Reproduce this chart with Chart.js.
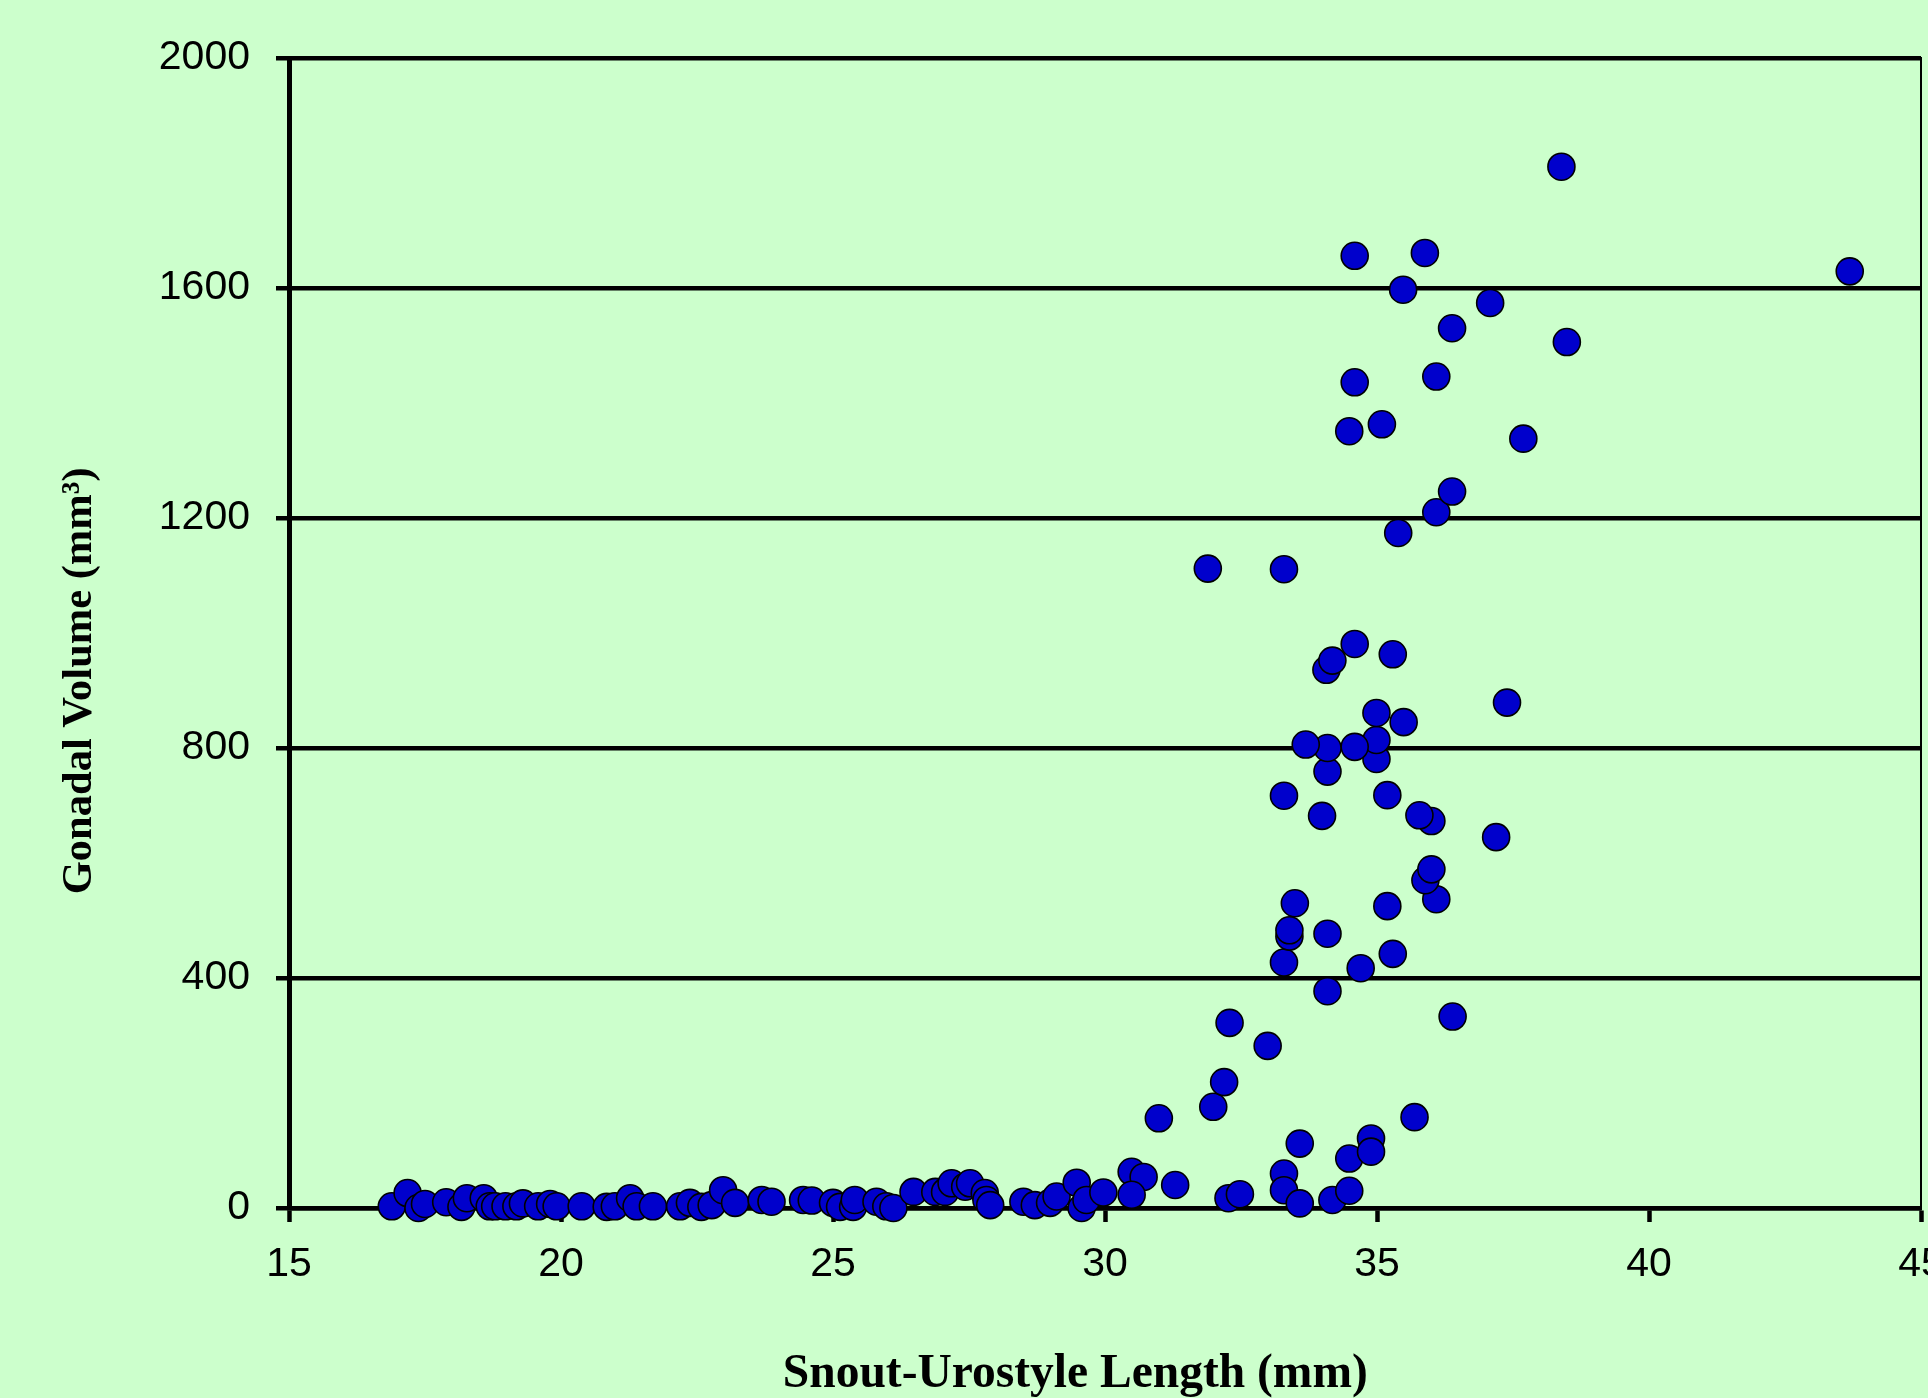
<!DOCTYPE html>
<html>
<head>
<meta charset="utf-8">
<script src="https://cdn.jsdelivr.net/npm/chart.js@4.4.1/dist/chart.umd.min.js"></script>
<style>
html,body{margin:0;padding:0;background:#CCFFCC;}
canvas{display:block;}
</style>
</head>
<body>
<canvas id="c" width="1928" height="1398"></canvas>
<script>
// Snout-urostyle length (mm)
const sul = [
  16.89, 17.18, 17.38, 17.50, 17.89, 18.17, 18.27, 18.58, 18.69, 18.79,
  18.98, 19.18, 19.30, 19.58, 19.80, 19.92, 20.38, 20.84, 20.99, 21.27,
  21.39, 21.69, 22.19, 22.37, 22.58, 22.77, 22.98, 23.20, 23.69, 23.87,
  24.45, 24.61, 25.00, 25.13, 25.37, 25.40, 25.80, 25.98, 26.11, 26.48,
  26.88, 27.06, 27.18, 27.43, 27.52, 27.79, 27.82, 27.89, 28.50, 28.71,
  28.99, 29.11, 29.48, 29.57, 29.66, 29.97, 30.49, 30.71, 30.49, 31.29,
  32.27, 32.48, 33.29, 33.29, 33.58, 33.58, 34.18, 34.49, 34.49, 34.89,
  34.89, 35.69, 30.99, 31.99, 32.19, 32.99, 32.29, 36.39, 34.09, 34.70,
  33.29, 35.29, 34.09, 33.39, 33.39, 35.19, 33.49, 36.09, 35.89, 36.00,
  37.19, 36.00, 35.78, 33.99, 35.19, 33.29, 34.09, 34.99, 34.99, 34.59,
  34.09, 33.69, 35.49, 34.99, 37.39, 35.29, 34.07, 34.18, 34.59, 33.29,
  31.89, 35.39, 36.09, 36.38, 37.69, 34.49, 35.09, 34.59, 36.09, 38.49,
  36.38, 37.08, 35.48, 35.88, 34.59, 43.69, 38.39
];
// Gonadal volume (mm3)
const vol = [
  3, 26, 0, 7, 10, 2, 17, 17, 3, 3,
  3, 3, 8, 3, 7, 3, 3, 2, 3, 17,
  3, 3, 3, 9, 2, 5, 31, 9, 14, 11,
  14, 13, 9, 2, 2, 14, 11, 3, 0, 28,
  28, 28, 43, 37, 43, 26, 14, 5, 11, 5,
  9, 20, 44, 0, 14, 27, 63, 54, 23, 40,
  17, 24, 60, 31, 112, 8, 14, 30, 86, 121,
  98, 158, 156, 176, 219, 282, 322, 333, 377, 417,
  427, 442, 477, 472, 483, 525, 530, 537, 570, 589,
  645, 673, 683, 682, 718, 717, 759, 781, 814, 802,
  800, 806, 845, 861, 879, 963, 936, 952, 981, 1111,
  1112, 1174, 1210, 1246, 1338, 1351, 1363, 1436, 1446, 1506,
  1530, 1574, 1597, 1661, 1656, 1629, 1811
];
const xTicks = [15, 20, 25, 30, 35, 40, 45];
const yTicks = [0, 400, 800, 1200, 1600, 2000];
const xTitle = 'Snout-Urostyle Length (mm)';
const yTitle = 'Gonadal Volume (mm\u00B3)';

const points = sul.map((x, i) => ({x: x, y: vol[i]}));

new Chart(document.getElementById('c'), {
  type: 'scatter',
  data: {
    datasets: [{
      data: points,
      backgroundColor: '#0000CC',
      borderColor: '#000000',
      borderWidth: 1.6,
      pointRadius: 13.5,
      pointHoverRadius: 13.5,
      clip: false
    }]
  },
  options: {
    responsive: false,
    animation: false,
    devicePixelRatio: 1,
    events: [],
    layout: {autoPadding: false, padding: {top: 58, right: 7, bottom: 0, left: 0}},
    plugins: {legend: {display: false}, tooltip: {enabled: false}},
    scales: {
      x: {
        type: 'linear',
        position: 'bottom',
        min: 15, max: 45,
        afterBuildTicks: s => { s.ticks = xTicks.map(v => ({value: v})); },
        afterFit: s => { s.height = 190; s.paddingRight = 0; s.paddingLeft = 0; },
        ticks: {
          color: '#000',
          font: {family: "'Liberation Sans', Arial, sans-serif", size: 41},
          padding: 18,
          maxRotation: 0,
          autoSkip: false,
          callback: v => String(v)
        },
        grid: {
          display: true,
          drawOnChartArea: false,
          drawTicks: true,
          tickLength: 14,
          tickColor: '#000',
          tickWidth: 4.5,
          color: '#000'
        },
        border: {display: true, color: '#000', width: 4.5},
        title: {
          display: true,
          text: xTitle + '     ',
          color: '#000',
          font: {family: "'Liberation Serif', 'Times New Roman', serif", size: 47.5, weight: 'bold', lineHeight: 1},
          padding: {top: 0, bottom: 0}
        }
      },
      y: {
        type: 'linear',
        position: 'left',
        min: 0, max: 2000,
        afterBuildTicks: s => { s.ticks = yTicks.map(v => ({value: v})); },
        afterFit: s => { s.width = 289; },
        ticks: {
          color: '#000',
          font: {family: "'Liberation Sans', Arial, sans-serif", size: 41},
          padding: 26,
          autoSkip: false,
          callback: v => String(v)
        },
        grid: {
          display: true,
          drawOnChartArea: true,
          drawTicks: true,
          tickLength: 13,
          tickColor: '#000',
          tickWidth: 4.5,
          color: '#000',
          lineWidth: 4.5
        },
        border: {display: true, color: '#000', width: 5},
        title: {
          display: true,
          text: yTitle + '         ',
          color: '#000',
          font: {family: "'Liberation Serif', 'Times New Roman', serif", size: 42.5, weight: 'bold', lineHeight: 1},
          padding: {top: 59, bottom: 0}
        }
      },
      y2: {
        type: 'linear',
        position: 'right',
        display: true,
        min: 0, max: 2000,
        afterFit: s => { s.width = 0; },
        ticks: {display: false},
        grid: {display: true, drawOnChartArea: false, drawTicks: false},
        border: {display: true, color: '#000', width: 2}
      }
    }
  }
});
</script>
</body>
</html>
